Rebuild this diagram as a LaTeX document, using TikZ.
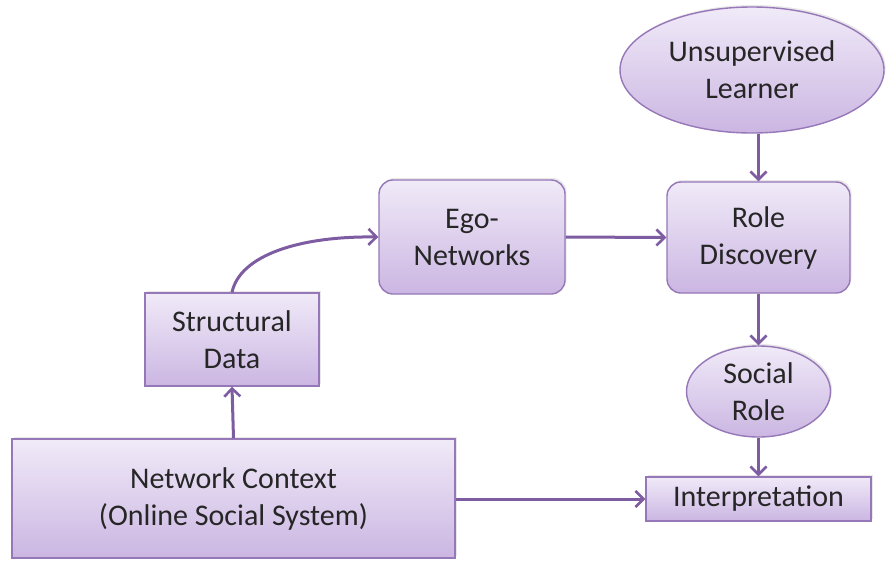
\documentclass[tikz,border=0pt]{standalone}
\usepackage{fontspec}
\setmainfont{Carlito}
\usetikzlibrary{shapes.geometric,arrows.meta,shadows}
\definecolor{topc}{HTML}{F0EAF8}
\definecolor{botc}{HTML}{CBB6E2}
\definecolor{edgec}{HTML}{9677B8}
\definecolor{arrc}{HTML}{7D5CA2}
\definecolor{txtc}{HTML}{262626}
\tikzset{
  base/.style={draw=edgec, line width=1.4pt, top color=topc, bottom color=botc,
    text=txtc, font=\fontsize{30}{37}\selectfont, align=center, inner sep=0pt,
    drop shadow={opacity=0.18, shadow xshift=1.5pt, shadow yshift=2pt}},
  sqbox/.style={base, rectangle},
  rbox/.style={base, rectangle, rounded corners=14pt},
  ell/.style={base, ellipse},
  arr/.style={draw=arrc, line width=3pt, -{Straight Barb[length=8pt,width=16pt,line width=2.6pt]}}
}
\begin{document}
\begin{tikzpicture}[x=1pt,y=-1pt]
\useasboundingbox[fill=white] (0,0) rectangle (888,560);
\node[ell, minimum width=264pt, minimum height=126pt] (ul) at (752,70) {Unsupervised\\Learner};
\node[rbox, minimum width=183pt, minimum height=111pt] (rd) at (758.5,237.5) {Role\\Discovery};
\node[rbox, minimum width=186pt, minimum height=114pt] (ego) at (472,237) {Ego-\\Networks};
\node[sqbox, minimum width=174pt, minimum height=93pt] (sd) at (232,339.5) {Structural\\Data};
\node[sqbox, minimum width=443pt, minimum height=119pt] (nc) at (233.5,498.5) {Network Context\\(Online Social System)};
\node[ell, minimum width=144pt, minimum height=91pt] (sr) at (758.5,391.5) {Social\\Role};
\node[sqbox, minimum width=225pt, minimum height=44pt] (ip) at (758.5,499) {Interpretation};
\draw[arr] (ul.south -| rd.north) -- (rd.north);
\draw[arr] (ego.east) -- (rd.west);
\draw[arr] (rd.south) -- (sr.north);
\draw[arr] (sr.south) -- (ip.north);
\draw[arr] (nc.east |- ip.west) -- (ip.west);
\draw[arr] (nc.north) -- (sd.south);
\draw[arr] (sd.north) .. controls (240,255) and (300,236) .. (ego.west);
\end{tikzpicture}
\end{document}
